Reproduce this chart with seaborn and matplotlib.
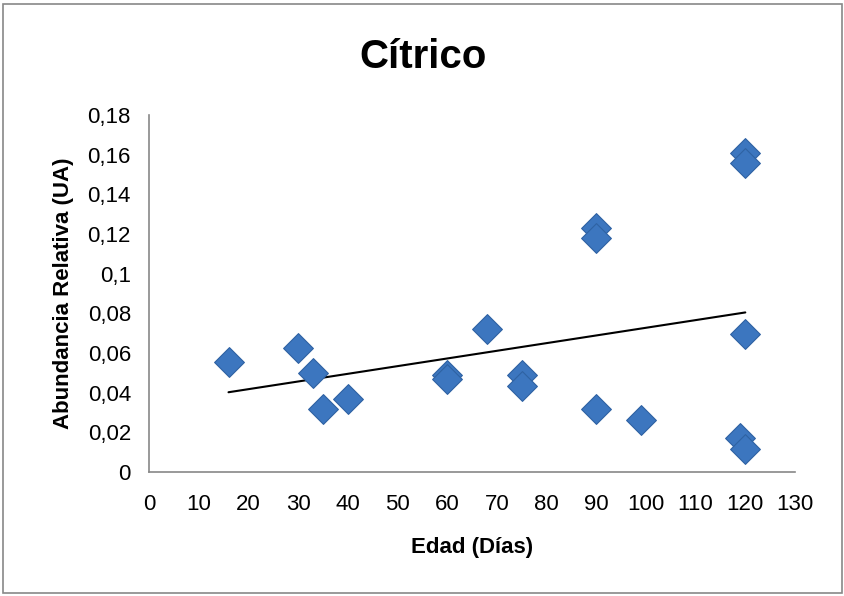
import numpy as np
import pandas as pd
import matplotlib
matplotlib.use("Agg")
import matplotlib.pyplot as plt
import seaborn as sns
from matplotlib.patches import Rectangle
from matplotlib.ticker import FuncFormatter

# Data
edad = [16, 30, 33, 35, 40, 60, 60, 68, 75, 75, 90, 90, 90, 99, 120, 120, 120, 119, 120]
abundancia = [0.0556, 0.0625, 0.050, 0.032, 0.0368, 0.049, 0.047, 0.072, 0.049, 0.0434,
              0.123, 0.118, 0.032, 0.026, 0.161, 0.156, 0.0695, 0.017, 0.0115]
x_ticks = list(range(0, 131, 10))
y_ticks = [0, 0.02, 0.04, 0.06, 0.08, 0.1, 0.12, 0.14, 0.16, 0.18]

df = pd.DataFrame({"Edad": edad, "Abundancia": abundancia})

sns.set_style("white")
plt.rcParams['font.family'] = ['Liberation Sans', 'DejaVu Sans']
plt.rcParams['text.color'] = 'black'
plt.rcParams['axes.labelcolor'] = 'black'

fig = plt.figure(figsize=(8.45, 5.96), dpi=100)
ax = fig.add_axes([149/845, 1-472/596, (795-149)/845, (472-115)/596])

sns.regplot(data=df, x="Edad", y="Abundancia", ax=ax, ci=None, scatter=False,
            truncate=True, line_kws=dict(color="black", lw=1.5))
sns.scatterplot(data=df, x="Edad", y="Abundancia", ax=ax, marker="D", s=230,
                color="#3C76BF", edgecolor="#2F62A3", linewidth=0.8, zorder=3)

ax.set_xlim(0, 130)
ax.set_ylim(0, 0.18)
ax.set_xticks(x_ticks)
ax.set_yticks(y_ticks)

def yfmt(v, pos):
    s = ("%.2f" % v).rstrip('0').rstrip('.') if v != 0 else "0"
    return s.replace('.', ',')
ax.yaxis.set_major_formatter(FuncFormatter(yfmt))

for side in ["top", "right"]:
    ax.spines[side].set_visible(False)
for side in ["left", "bottom"]:
    ax.spines[side].set_color("#888888")
    ax.spines[side].set_linewidth(1.2)
ax.tick_params(axis="both", which="major", length=6, width=1.2, color="#888888",
               direction="out", labelsize=16, labelcolor="black")
ax.tick_params(axis="x", pad=10)
ax.tick_params(axis="y", pad=7)

ax.set_xlabel("Edad (Días)", fontsize=16, fontweight="bold", labelpad=16)
ax.set_ylabel("Abundancia Relativa (UA)", fontsize=16, fontweight="bold", labelpad=10)
fig.text(423/845, 1-57/596, "Cítrico", ha="center", va="center", fontsize=29, fontweight="bold")

fig.patches.append(Rectangle((3/845, 3/596), 839/845, 589/596, transform=fig.transFigure,
                             fill=False, edgecolor="#888888", linewidth=1.2))

fig.savefig("out.png", dpi=100)
